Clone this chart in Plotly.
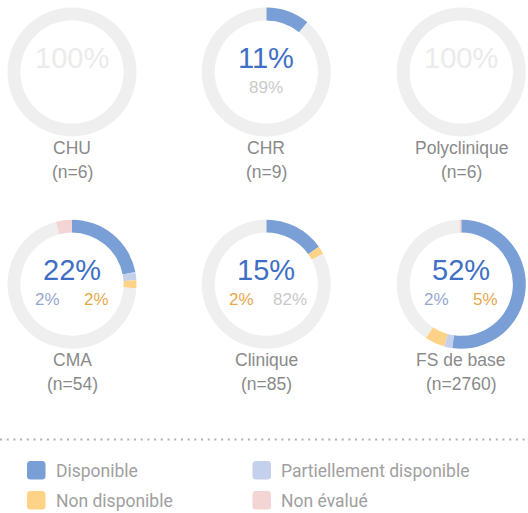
import plotly.graph_objects as go

# ---- data ----
categories = ["CHU", "CHR", "Polyclinique", "CMA", "Clinique", "FS de base"]
n_values = [6, 9, 6, 54, 85, 2760]
disponible = [0, 11, 0, 22, 15, 52]
partiel = [0, 0, 0, 2, 0, 2]
non_dispo = [0, 0, 0, 2, 2, 5]
non_evalue = [0, 0, 0, 4, 0, 0.5]
reste = [100, 89, 100, 70, 82, 40]

series_names = ["Disponible", "Partiellement disponible", "Non disponible", "Non évalué"]

# ---- styles ----
W, H = 528, 513
C_DISPO = "#7a9fd6"
C_PART = "#c5d0ec"
C_NOND = "#ffd387"
C_NEVAL = "#f4d5d5"
C_REST = "#efefef"
T_DISPO = "#3f6fc5"
T_PART = "#97a6d0"
T_NOND = "#e7a84c"
T_REST = "#c9c9c9"
T_REST_BIG = "#ebebeb"
LABEL_FONT = "Arial"

centers_x = [72, 266.3, 461.3, 72, 266.3, 461.3]
centers_y = [72, 72, 72, 284.2, 284.2, 284.2]
R = 64.5

fig = go.Figure()
ann = []

def px_x(x):
    return x / W

def px_y(y):
    return 1 - y / H

for i, cat in enumerate(categories):
    cx, cy = centers_x[i], centers_y[i]
    vals = [disponible[i], partiel[i], non_dispo[i], reste[i], non_evalue[i]]
    cols = [C_DISPO, C_PART, C_NOND, C_REST, C_NEVAL]
    fig.add_trace(go.Pie(
        values=vals,
        labels=["Disponible", "Partiellement disponible", "Non disponible", "Autre", "Non évalué"],
        marker=dict(colors=cols, line=dict(width=0)),
        hole=0.8,
        sort=False,
        direction="clockwise",
        rotation=0,
        textinfo="none",
        hoverinfo="label+percent",
        showlegend=False,
        domain=dict(x=[px_x(cx - R), px_x(cx + R)], y=[px_y(cy + R), px_y(cy - R)]),
    ))
    # big value
    if disponible[i] > 0:
        big, bigc = f"{disponible[i]:g}%", T_DISPO
        secondary = [(partiel[i], T_PART), (non_dispo[i], T_NOND), (reste[i], T_REST)]
    else:
        big, bigc = f"{reste[i]:g}%", T_REST_BIG
        secondary = [(partiel[i], T_PART), (non_dispo[i], T_NOND)]
    ann.append(dict(x=px_x(cx), y=px_y(cy - 14), text=big, showarrow=False,
                    xref="paper", yref="paper",
                    font=dict(family=LABEL_FONT, size=29, color=bigc),
                    xanchor="center", yanchor="middle"))
    sec = [(v, c) for v, c in secondary if v > 0][:2]
    if len(sec) == 1:
        offs = [0]
    else:
        offs = [-25, 24]
    for (v, c), o in zip(sec, offs):
        ann.append(dict(x=px_x(cx + o), y=px_y(cy + 15.5), text=f"{v:g}%", showarrow=False,
                        xref="paper", yref="paper",
                        font=dict(family=LABEL_FONT, size=17, color=c),
                        xanchor="center", yanchor="middle"))
    # category labels
    ann.append(dict(x=px_x(cx), y=px_y(cy + 76), text=cat, showarrow=False,
                    xref="paper", yref="paper",
                    font=dict(family=LABEL_FONT, size=17.5, color="#8a8a8a"),
                    xanchor="center", yanchor="middle"))
    ann.append(dict(x=px_x(cx), y=px_y(cy + 100), text=f"(n={n_values[i]})", showarrow=False,
                    xref="paper", yref="paper",
                    font=dict(family=LABEL_FONT, size=17.5, color="#8a8a8a"),
                    xanchor="center", yanchor="middle"))

shapes = []
# dotted separator
shapes.append(dict(type="line", xref="paper", yref="paper", x0=0, x1=1,
                   y0=px_y(439.5), y1=px_y(439.5),
                   line=dict(color="#b0b0b0", width=2, dash="2px,4.7px")))

# legend
leg_colors = [C_DISPO, C_PART, C_NOND, C_NEVAL]
leg_pos = [(27, 461), (252.5, 461), (27, 491), (252.5, 491)]
s = 18.5
r = 3.5

def rrect(x0, y0, w, h, r):
    x1, y1 = x0 + w, y0 + h
    return (f"M{x0 + r},{y0} L{x1 - r},{y0} Q{x1},{y0} {x1},{y0 + r} "
            f"L{x1},{y1 - r} Q{x1},{y1} {x1 - r},{y1} L{x0 + r},{y1} "
            f"Q{x0},{y1} {x0},{y1 - r} L{x0},{y0 + r} Q{x0},{y0} {x0 + r},{y0} Z")

fig.update_layout(xaxis=dict(visible=False, range=[0, W], fixedrange=True),
                  yaxis=dict(visible=False, range=[H, 0], fixedrange=True))
for name, col, (lx, ly) in zip(series_names, leg_colors, leg_pos):
    shapes.append(dict(type="path", xref="x", yref="y", path=rrect(lx, ly, s, s, r),
                       fillcolor=col, line=dict(width=0), layer="above"))
    ann.append(dict(x=px_x(lx + 26.5), y=px_y(ly + s / 2 + 0.5), text=name, showarrow=False,
                    xref="paper", yref="paper",
                    font=dict(family="Roboto", size=17.5, color="#a0a0a0"),
                    xanchor="left", yanchor="middle"))

fig.update_layout(
    width=W, height=H,
    margin=dict(l=0, r=0, t=0, b=0),
    paper_bgcolor="white", plot_bgcolor="white",
    annotations=ann, shapes=shapes,
    showlegend=False,
)
fig.update_xaxes(domain=[0, 1])
fig.update_yaxes(domain=[0, 1])

fig.write_html("out.html", config={"displayModeBar": False},
               post_script="document.body.style.margin='0';document.body.style.overflow='hidden';")
